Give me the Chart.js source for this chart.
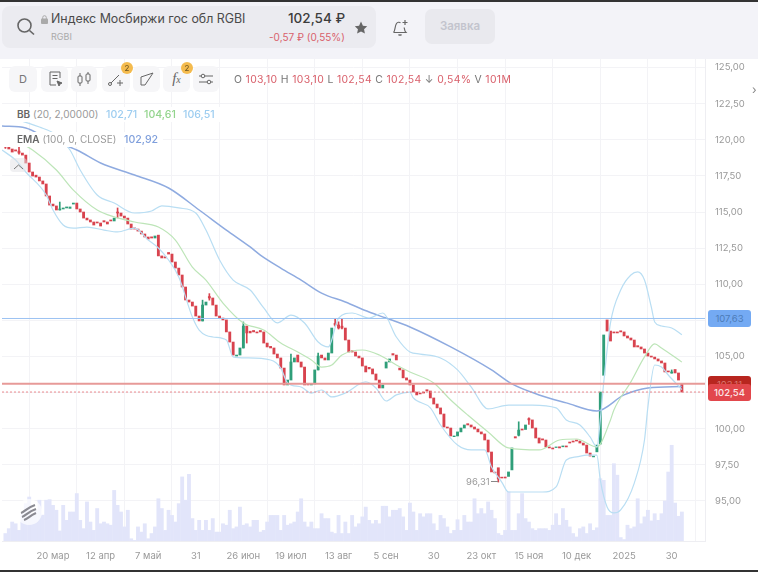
<!DOCTYPE html>
<html>
<head>
<meta charset="utf-8">
<script src="https://cdn.jsdelivr.net/npm/chart.js@4"></script>
<style>
  html, body { margin: 0; padding: 0; width: 758px; height: 572px; overflow: hidden; background: #fff; }
  body { font-family: Inter, "Noto Sans", sans-serif; color: #444; position: relative; }
  #page { position: absolute; left: 0; top: 0; width: 758px; height: 572px; filter: blur(0.5px); }
  .abs { position: absolute; white-space: nowrap; }
  #topbar { left: 0; top: 0; width: 758px; height: 59px; background: #f3f3f8; }
  #search { left: 2px; top: 6px; width: 374px; height: 42px; border-radius: 8px; background: #ebebf0; }
  .tool { top: 66px; height: 26px; border-radius: 6px; background: #f6f6f8; text-align: center; color: #777; }
  .badge { width: 12px; height: 12px; top: 62px; border-radius: 50%; background: #f4bb4e; font-size: 8px; line-height: 12px; text-align: center; color: #6b5320; }
  .red { color: #d9606b; }
  .row { left: 0; background: #fff; font-size: 10px; line-height: 15px; color: #999; padding-left: 17px; }
  .row b { color: #666; font-weight: 600; }
  .row span { position: absolute; top: 0; font-size: 10.6px; font-weight: 500; }
  .tag { left: 708px; width: 43px; height: 17px; border-radius: 3px; font-size: 9.5px; line-height: 17px; text-align: center; }
  canvas { position: absolute; left: 0; top: 0; }
</style>
</head>
<body>
<div id="page">
  <div class="abs" id="topbar"></div>
  <canvas id="chart" width="758" height="572"></canvas>

  <div class="abs" id="search"></div>
  <svg class="abs" style="left:16px;top:17px" width="20" height="20" viewBox="0 0 20 20" fill="none" stroke="#666" stroke-width="1.6"><circle cx="8.5" cy="8.5" r="6.5"/><path d="M13.5 13.5l4.5 4"/></svg>
  <svg class="abs" style="left:41px;top:15px" width="7" height="9" viewBox="0 0 7 9"><rect x="0" y="3.5" width="7" height="5.5" rx="1" fill="#aaa"/><path d="M1.7 4V2.5a1.8 1.8 0 0 1 3.6 0V4" stroke="#aaa" fill="none"/></svg>
  <div class="abs" style="left:51px;top:10px;font-size:12.4px;line-height:17px;color:#4a4a4a">Индекс Мосбиржи гос обл RGBI</div>
  <div class="abs" style="left:51px;top:31px;font-size:9px;line-height:12px;color:#aaa">RGBI</div>
  <div class="abs" style="left:288px;top:9px;font-size:13.5px;line-height:18px;font-weight:500;color:#3c3c3c">102,54 ₽</div>
  <div class="abs red" style="left:269px;top:30px;font-size:10px;line-height:14px">-0,57 ₽ (0,55%)</div>
  <svg class="abs" style="left:354px;top:21px" width="14" height="13" viewBox="0 0 24 23"><path d="M12 1l3.4 7.3 7.6.9-5.6 5.3 1.5 7.8L12 18.4 5.100 22.300l1.500-7.800L1 9.200l7.600-.9z" fill="#666"/></svg>
  <svg class="abs" style="left:391px;top:18px" width="19" height="19" viewBox="0 0 19 19" fill="none" stroke="#666" stroke-width="1.2"><path d="M2.500 14.500c2-2 1-6 3-9 1-1.500 3-1.500 4-.8M2.500 14.500h12.500c-1.500-1.500-1.500-3-1.800-5"/><path d="M7.500 16.500c.8.900 2.200.900 3 0M14 2v5M11.500 4.500h5"/></svg>
  <div class="abs" style="left:425px;top:9px;width:70px;height:35px;border-radius:7px;background:#e9e9ee;text-align:center;font-size:11.5px;line-height:35px;font-weight:600;color:#c3c4cd">Заявка</div>

  <div class="abs tool" style="left:9px;width:28px;font-size:11px;line-height:26px">D</div>
  <div class="abs tool" style="left:41px;width:27px"><svg width="16" height="18" viewBox="0 0 16 18" style="margin-top:4px" fill="none" stroke="#666"><path d="M13 8V2H3v13h6M5.500 5.500h5M5.500 8.500h5"/><path d="M10 11l5 2-2 1-1 2z" fill="#666"/></svg></div>
  <div class="abs tool" style="left:71px;width:26px"><svg width="16" height="16" viewBox="0 0 16 16" style="margin-top:5px" fill="none" stroke="#666"><rect x="2" y="5" width="4" height="7" rx="1"/><rect x="10" y="3" width="4" height="7" rx="1"/><path d="M4 2v3M4 12v3M12 1v2M12 10v3"/></svg></div>
  <div class="abs tool" style="left:102px;width:28px"><svg width="18" height="16" viewBox="0 0 18 16" style="margin-top:5px" fill="none" stroke="#666"><circle cx="3" cy="13" r="1.500"/><path d="M4 12l8-8M13 9v6M10 12h6"/></svg></div>
  <div class="abs tool" style="left:133px;width:27px"><svg width="16" height="16" viewBox="0 0 16 16" style="margin-top:5px" fill="none" stroke="#666"><path d="M2 14V6l12-4-8 12z"/></svg></div>
  <div class="abs tool" style="left:163px;width:27px;font-family:'Liberation Serif',serif;font-style:italic;font-size:15px;line-height:25px;color:#666">f<span style="font-size:10px">x</span></div>
  <div class="abs tool" style="left:193px;width:26px"><svg width="16" height="14" viewBox="0 0 16 14" style="margin-top:6px" fill="none" stroke="#666"><path d="M1 4h14M1 10h14"/><circle cx="5" cy="4" r="1.800" fill="#f6f6f8"/><circle cx="11" cy="10" r="1.800" fill="#f6f6f8"/></svg></div>
  <div class="abs badge" style="left:121px">2</div>
  <div class="abs badge" style="left:181px">2</div>

  <div class="abs" style="left:234px;top:72px;font-size:10.4px;line-height:15px;color:#777;letter-spacing:0.35px">O <span class="red">103,10</span> H <span class="red">103,10</span> L <span class="red">102,54</span> C <span class="red">102,54</span> ↓ <span class="red">0,54%</span> V <span class="red">101M</span></div>

  <div class="abs row" style="top:107px;width:203px;height:15px"><b>BB</b> (20, 2,00000)<span style="left:106px;color:#9dcdf0">102,71</span><span style="left:144px;color:#93d48d">104,61</span><span style="left:183px;color:#9dcdf0">106,51</span></div>
  <div class="abs row" style="top:132px;width:146px;height:15px"><b>EMA</b> (100, 0, CLOSE)<span style="left:124px;color:#7f9fdc">102,92</span></div>

  <div class="abs" style="left:10px;top:158px;width:17px;height:14px;border-radius:4px;background:rgba(225,225,230,0.5)"><svg width="17" height="14" viewBox="0 0 17 14" fill="none" stroke="#777"><path d="M4 9l4.500-4 4.500 4"/></svg></div>
  <svg class="abs" style="left:16px;top:499px" width="26" height="26" viewBox="0 0 26 26" fill="none" stroke="#8a8a92" stroke-width="2.200"><circle cx="13" cy="13" r="13" fill="rgba(255,255,255,0.7)" stroke="none"/><path d="M5 14c4-1 5-5 14-8M6 18c4-1 5-5 14-8M8 21c4-1 5-4 12-7"/></svg>

  <div class="abs" style="left:466px;top:476px;font-size:9.5px;line-height:12px;color:#999">96,31</div>
  <div class="abs" style="left:491px;top:481px;width:7px;height:1px;background:#888"></div>

  <div class="abs tag" style="top:310px;background:#74aaf3;color:#4d7cb8">107,63</div>
  <div class="abs tag" style="top:376px;background:#b8261f;color:#d9776f">103,11</div>
  <div class="abs tag" style="top:384px;background:#e2474c;color:#fbe6e6;font-weight:500">102,54</div>
  <div class="abs" style="left:752px;top:82px;font-size:12px;color:#888">›</div>

  <div class="abs" style="left:0;top:0;width:758px;height:2px;background:#333"></div>
  <div class="abs" style="left:0;top:570px;width:758px;height:2px;background:#333"></div>
</div>

<script>
// Day bars, first to last
const opens = [119.65,119.50,119.36,119.30,119.22,119.08,118.94,118.39,117.77,117.55,
  117.42,117.15,116.94,116.11,115.55,115.42,115.14,115.21,115.28,115.25,
  115.55,115.62,115.21,115.00,114.58,114.45,114.31,114.31,114.24,114.40,
  114.31,114.45,114.38,115.00,114.93,114.72,114.58,114.17,113.90,113.82,
  113.68,113.48,113.27,113.28,113.20,113.40,111.96,111.90,112.20,112.09,
  111.54,111.12,110.64,109.81,108.91,108.77,108.49,107.80,107.46,108.56,
  109.15,109.05,108.56,107.80,107.66,107.53,106.70,106.00,105.03,105.10,
  105.59,107.11,106.75,106.80,106.70,106.80,106.70,105.93,105.70,105.59,
  105.17,104.90,104.20,103.03,103.37,104.62,105.10,104.62,104.27,103.10,
  103.03,103.10,104.07,105.10,104.90,104.76,105.24,107.30,107.18,107.10,
  106.97,106.14,105.40,105.31,105.03,104.90,104.34,104.25,104.14,103.79,
  103.37,102.82,104.20,104.62,105.20,105.10,104.20,104.07,103.52,103.37,
  103.03,102.54,102.47,102.54,102.70,102.61,102.13,101.71,101.44,101.02,
  100.12,100.05,99.45,99.50,99.78,100.05,100.35,100.26,100.12,99.98,
  99.78,99.64,99.22,98.39,97.00,97.30,96.65,96.66,96.70,97.15,
  99.45,99.55,99.98,99.95,100.70,100.61,100.05,99.36,99.30,99.22,
  98.74,98.67,98.70,98.75,98.75,98.81,99.08,99.15,99.22,99.15,
  99.01,98.87,98.32,98.05,98.40,98.94,103.70,107.53,106.76,106.70,
  106.70,106.78,106.70,106.42,106.28,106.14,105.75,105.66,105.52,105.24,
  105.03,104.96,104.83,104.69,104.55,104.00,103.85,104.10,103.86,103.10];

const closes = [119.50,119.36,119.15,119.22,119.08,118.94,118.39,117.77,117.49,117.42,
  117.15,116.94,116.11,115.48,115.42,115.14,115.21,115.28,115.35,115.35,
  115.62,115.21,115.00,114.58,114.45,114.31,114.10,114.24,114.03,114.31,
  114.17,114.38,114.58,114.93,114.72,114.58,114.17,113.82,113.82,113.68,
  113.48,113.27,113.13,113.20,113.34,111.96,111.82,111.82,112.09,111.54,
  111.12,110.64,109.81,108.91,108.77,108.49,107.80,107.46,108.56,108.77,
  109.05,108.56,107.80,107.66,107.53,106.70,106.00,105.10,105.10,105.59,
  107.11,106.63,106.63,106.70,106.63,106.70,105.93,105.66,105.59,105.17,
  104.90,104.20,103.03,103.37,104.62,104.90,104.62,104.27,103.03,103.03,
  103.10,104.07,105.03,104.90,104.76,105.24,106.97,107.18,106.97,106.97,
  106.14,105.31,105.31,105.03,104.90,104.34,103.93,104.14,103.79,103.37,
  102.82,103.03,104.62,104.83,105.10,104.76,104.07,103.52,103.37,103.03,
  102.54,102.34,102.41,102.47,102.61,102.13,101.71,101.44,101.02,100.12,
  100.05,99.50,99.50,99.78,100.05,100.26,100.26,100.12,99.98,99.78,
  99.64,99.22,98.39,97.01,96.94,96.52,96.59,96.59,97.01,98.67,
  99.36,99.91,99.91,100.26,100.61,100.05,99.36,99.01,99.22,98.74,
  98.67,98.60,98.74,98.67,98.81,98.74,99.01,99.08,99.15,99.01,
  98.87,98.32,98.11,98.11,98.87,102.54,106.49,106.76,106.07,106.63,
  106.63,106.70,106.42,106.28,106.14,105.66,105.66,105.52,105.24,105.03,
  104.96,104.83,104.69,104.55,103.93,103.93,103.93,103.86,103.37,102.54];

// Volume in millions
const volumes = [26,43,66,60,37,95,130,153,95,107,
  142,90,142,144,124,107,35,124,72,101,
  101,165,72,43,136,66,37,113,60,66,
  60,55,176,124,101,49,107,8,2,49,
  31,60,8,26,49,147,113,37,107,89,
  66,130,223,142,232,78,37,72,37,72,
  37,78,31,31,60,55,107,43,49,118,
  55,60,49,72,72,31,37,66,89,89,
  89,37,89,55,60,66,101,147,66,49,
  66,43,43,95,78,78,31,26,89,26,
  66,26,89,49,60,84,118,72,60,72,
  60,121,121,84,107,107,113,84,37,132,
  101,37,95,84,95,95,60,37,89,78,
  49,26,37,74,37,89,66,66,147,95,
  113,95,136,107,78,26,20,37,171,37,
  37,95,165,78,66,43,37,43,43,43,
  37,55,95,55,113,72,49,26,14,43,
  49,26,60,37,46,217,211,89,89,269,
  229,12,5,55,43,49,147,60,84,107,
  70,95,72,95,139,240,333,132,86,101];

// Only the bars with a wick that can be seen
const wickBars = [0,4,16,33,58,60,70,71,84,92,97,98,99,145,151,154,196];
const wickHighs = [119.85,119.60,115.69,115.28,108.90,109.35,107.39,106.63,105.17,105.24,107.60,107.40,107.60,97.15,100.48,100.75,104.07];
const wickLows = [119.40,119.00,115.14,114.60,107.46,108.90,105.59,105.93,104.62,104.07,107.10,106.90,106.90,96.31,99.50,100.30,103.85];

// Indicators, read at the bars where they bend
const upperBars = [-1,10,15,19,22,27,32,38,43,46,51,56,59,63,67,72,76,80,84,88,92,95,98,102,107,111,115,119,122,128,133,137,142,148,155,162,165,169,172,174,175,176,178,181,184,186,188,190,191,193,196,199];
const upperVals = [121.71,120.88,120.33,119.29,117.91,116.18,115.62,114.93,115.07,115.42,115.28,114.93,113.75,111.68,110.29,109.60,108.36,107.32,107.87,107.32,106.00,105.66,107.66,108.01,107.66,108.01,106.35,105.31,105.17,104.90,104.07,102.89,101.37,101.64,101.64,101.44,100.61,100.26,99.43,98.74,100.61,103.17,107.32,109.60,110.64,110.85,110.29,108.43,107.39,107.11,106.97,106.51];
const middleBars = [-1,8,15,20,27,32,38,45,50,55,59,64,70,76,81,86,90,93,96,99,105,110,115,119,126,131,136,142,148,157,163,168,174,178,179,184,188,191,193,199];
const middleVals = [120.47,119.29,117.91,116.52,115.14,114.66,114.31,113.96,113.06,111.19,110.29,108.70,107.32,106.83,105.93,105.31,104.76,104.27,104.41,105.10,105.45,105.10,104.41,103.93,103.17,101.99,100.95,99.78,98.67,98.53,99.22,99.29,98.74,100.61,101.30,103.24,104.97,105.87,105.59,104.61];
const lowerBars = [-1,3,6,12,14,17,20,24,29,33,38,42,45,48,51,55,57,61,65,67,71,78,81,83,87,90,93,96,100,106,109,112,115,119,120,125,128,133,137,141,143,146,148,158,162,165,168,171,174,175,177,179,181,185,188,189,191,193,195,199];
const lowerVals = [119.29,118.60,117.77,116.18,115.14,114.10,113.89,113.96,113.75,113.62,113.89,113.06,112.51,111.68,110.50,107.73,106.83,106.35,106.14,104.97,104.90,104.76,104.20,103.17,102.89,102.47,102.68,102.20,102.47,103.24,102.82,101.92,102.34,102.54,102.13,101.44,100.26,98.87,98.53,98.53,97.35,96.31,95.62,95.62,95.97,97.84,98.05,98.18,98.18,96.45,94.59,94.17,94.38,96.24,99.22,101.50,104.41,104.27,103.72,102.71];
const emaBars = [-1,6,13,21,28,38,48,57,65,72,75,81,87,93,100,107,112,119,131,143,149,157,165,174,182,189,199];
const emaVals = [120.95,120.81,119.98,119.29,118.39,117.56,116.66,115.14,113.75,112.58,112.02,111.12,110.29,109.39,108.77,108.08,107.66,107.04,105.66,104.07,103.10,102.34,101.79,101.23,102.34,102.82,102.92];

// Axis labels
const priceTicks = [125,122.5,120,117.5,115,112.5,110,107.5,105,102.5,100,97.5,95];
const dateBars = [14,28,42,56,70,84,98,112,126,140,154,168,182,196];
const dateLabels = ['20 мар','12 апр','7 май','31','26 июн','19 июл','13 авг','5 сен','30','23 окт','15 ноя','10 дек','2025','30'];

// Horizontal price levels
const levelBlue = 107.63;
const levelRed = 103.11;
const levelLast = 102.54;

const RED = '#d8434e';
const GREEN = '#2f9e79';
const xMin = -1;
const xMax = 205.8;

function zip(xs, ys) {
  return xs.map((x, i) => ({ x: x, y: ys[i] }));
}

function barColor(i) {
  return closes[i] >= opens[i] ? GREEN : RED;
}

function indicator(xs, ys, color, width) {
  return {
    type: 'line',
    data: zip(xs, ys),
    borderColor: color,
    borderWidth: width,
    pointRadius: 0,
    cubicInterpolationMode: 'monotone',
    yAxisID: 'y',
    order: 2
  };
}

function level(value, color, width, dash) {
  return {
    type: 'line',
    data: [{ x: xMin, y: value }, { x: xMax, y: value }],
    borderColor: color,
    borderWidth: width,
    borderDash: dash,
    pointRadius: 0,
    yAxisID: 'y',
    order: 1
  };
}

const allBars = opens.map((o, i) => i);

new Chart(document.getElementById('chart'), {
  data: {
    datasets: [
      {
        type: 'bar',
        data: zip(allBars, volumes),
        backgroundColor: '#e2e5fa',
        barThickness: 3.2,
        grouped: false,
        yAxisID: 'volume',
        order: 6
      },
      {
        type: 'bar',
        data: wickBars.map((b, i) => ({ x: b, y: [wickLows[i], wickHighs[i]] })),
        backgroundColor: wickBars.map(b => barColor(b)),
        barThickness: 1,
        grouped: false,
        yAxisID: 'y',
        order: 5
      },
      {
        type: 'bar',
        data: allBars.map(i => ({ x: i, y: [opens[i], closes[i]] })),
        backgroundColor: allBars.map(i => barColor(i)),
        barThickness: 2.2,
        grouped: false,
        yAxisID: 'y',
        order: 4
      },
      indicator(upperBars, upperVals, '#b9def3', 1.2),
      indicator(lowerBars, lowerVals, '#b9def3', 1.2),
      indicator(middleBars, middleVals, '#bde5b8', 1.2),
      indicator(emaBars, emaVals, '#8fabe0', 1.5),
      level(levelBlue, '#9cc3f2', 1, []),
      level(levelRed, '#e79a98', 2, []),
      level(levelLast, '#ea8a8e', 1, [2, 2])
    ]
  },
  options: {
    responsive: false,
    animation: false,
    layout: { padding: { left: 2, top: 59, right: 0, bottom: 0 } },
    plugins: { legend: { display: false }, tooltip: { enabled: false } },
    scales: {
      x: {
        type: 'linear',
        min: xMin,
        max: xMax,
        offset: false,
        afterBuildTicks: scale => { scale.ticks = dateBars.map(v => ({ value: v })); },
        afterFit: scale => { scale.height = 31; },
        grid: { color: '#f3f3f6', drawTicks: false },
        border: { color: '#eeeef2' },
        ticks: {
          autoSkip: false,
          maxRotation: 0,
          padding: 9,
          color: '#999',
          font: { family: 'Inter', size: 9.5 },
          callback: value => dateLabels[dateBars.indexOf(value)]
        }
      },
      y: {
        position: 'right',
        min: 92.23,
        max: 125.59,
        afterBuildTicks: scale => { scale.ticks = priceTicks.map(v => ({ value: v })); },
        afterFit: scale => { scale.width = 53; },
        grid: { color: '#f3f3f6', drawTicks: false },
        border: { color: '#eeeef2' },
        ticks: {
          padding: 10,
          color: '#999',
          font: { family: 'Inter', size: 9.5 },
          callback: value => value.toFixed(2).replace('.', ',')
        }
      },
      volume: { display: false, min: 0, max: 1677 }
    }
  }
});
</script>
</body>
</html>
